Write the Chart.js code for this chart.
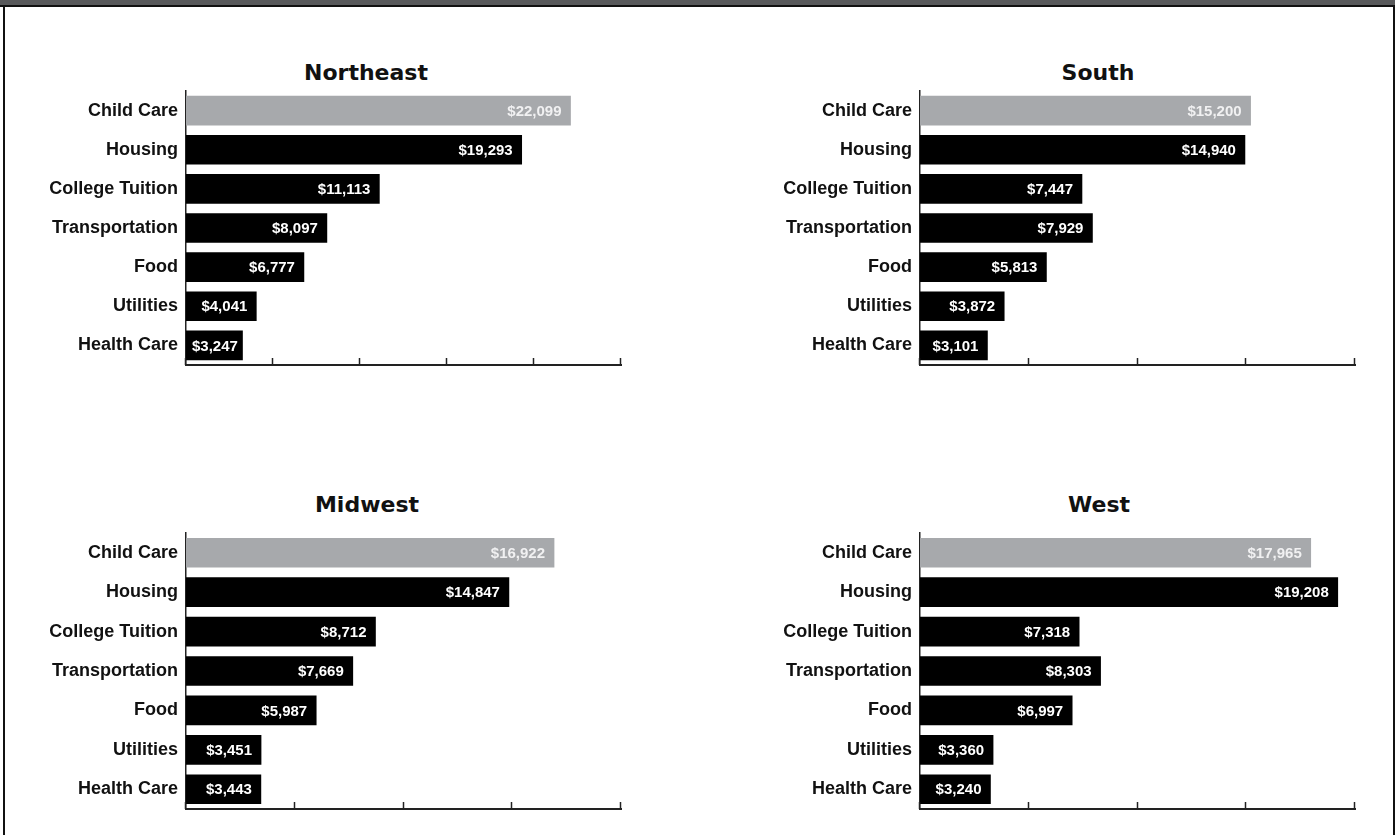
<!DOCTYPE html>
<html lang="en">
<head>
  <meta charset="UTF-8">
  <title>Annual Costs by Region</title>
  <script src="https://cdn.jsdelivr.net/npm/chart.js"></script>
  <style>
    body {
      margin: 0;
      width: 1397px;
      height: 835px;
      overflow: hidden;
      position: relative;
      background: #ffffff;
      font-family: 'Liberation Sans', Arial, sans-serif;
    }

    .band {
      position: absolute;
      left: 0;
      top: 0;
      width: 1395px;
      height: 5px;
      background: #58595b;
      border-bottom: 2px solid #111;
    }

    .frame {
      position: absolute;
      left: 3px;
      top: 5px;
      width: 1392px;
      height: 840px;
      box-sizing: border-box;
      border-left: 2px solid #111;
      border-right: 2px solid #111;
    }

    .panel {
      position: absolute;
    }

    h2 {
      position: absolute;
      margin: 0;
      width: 300px;
      text-align: center;
      font-family: 'DejaVu Sans', sans-serif;
      font-size: 22px;
      font-weight: bold;
      line-height: 26px;
      color: #111;
    }
  </style>
</head>
<body>

  <div class="band"></div>
  <div class="frame"></div>

  <h2 id="t-ne"></h2>
  <h2 id="t-south"></h2>
  <h2 id="t-mw"></h2>
  <h2 id="t-west"></h2>

  <div class="panel"><canvas id="ne"></canvas></div>
  <div class="panel"><canvas id="south"></canvas></div>
  <div class="panel"><canvas id="mw"></canvas></div>
  <div class="panel"><canvas id="west"></canvas></div>

  <script>
    const CATEGORIES = ['Child Care', 'Housing', 'College Tuition', 'Transportation', 'Food', 'Utilities', 'Health Care'];
    const REGION_NAMES = ['Northeast', 'South', 'Midwest', 'West'];

    const NORTHEAST_COSTS = [22099, 19293, 11113, 8097, 6777, 4041, 3247];
    const SOUTH_COSTS = [15200, 14940, 7447, 7929, 5813, 3872, 3101];
    const MIDWEST_COSTS = [16922, 14847, 8712, 7669, 5987, 3451, 3443];
    const WEST_COSTS = [17965, 19208, 7318, 8303, 6997, 3360, 3240];

    const AXIS_MAX = [25000, 20000, 20000, 20000];
    const AXIS_STEP = 5000;

    const HIGHLIGHT = '#a7a9ac';
    const BAR_COLOR = '#000000';

    // where each panel sits on the page (plot edges + title centre, page px)
    const PANELS = [
      { id: 'ne',    left: 0,   areaLeft: 186, areaRight: 621,  titleX: 366,  titleY: 73,  plotTop: 91,  plotBottom: 365 },
      { id: 'south', left: 700, areaLeft: 920, areaRight: 1355, titleX: 1098, titleY: 73,  plotTop: 91,  plotBottom: 365 },
      { id: 'mw',    left: 0,   areaLeft: 186, areaRight: 621,  titleX: 367,  titleY: 505, plotTop: 533, plotBottom: 809 },
      { id: 'west',  left: 700, areaLeft: 920, areaRight: 1355, titleX: 1099, titleY: 505, plotTop: 533, plotBottom: 809 }
    ];

    const PAD = { left: 10, right: 20, top: 30, bottom: 20 };
    const X_AXIS_H = 4;

    // short upward tick marks on the value axis
    const tickMarks = {
      id: 'tickMarks',
      afterDraw(chart) {
        const xs = chart.scales.x;
        const ctx = chart.ctx;
        const bottom = chart.chartArea.bottom;
        ctx.save();
        ctx.strokeStyle = '#222';
        ctx.lineWidth = 1.5;
        xs.ticks.forEach(t => {
          const px = Math.round(xs.getPixelForValue(t.value)) - 0.5;
          ctx.beginPath();
          ctx.moveTo(px, bottom);
          ctx.lineTo(px, bottom - 7);
          ctx.stroke();
        });
        ctx.restore();
      }
    };

    // "$22,099" labels at the inner end of each bar
    const valueLabels = {
      id: 'valueLabels',
      afterDatasetsDraw(chart) {
        const ctx = chart.ctx;
        const meta = chart.getDatasetMeta(0);
        const values = chart.data.datasets[0].data;
        ctx.save();
        ctx.font = 'bold 15px "Liberation Sans", Arial, sans-serif';
        ctx.textAlign = 'right';
        ctx.textBaseline = 'middle';
        meta.data.forEach((bar, i) => {
          const text = '$' + values[i].toLocaleString('en-US');
          const w = ctx.measureText(text).width;
          const x = Math.max(bar.x - 9, bar.base + w + 6);
          ctx.fillStyle = i === 0 ? '#f1f1f2' : '#ffffff';
          ctx.fillText(text, x, bar.y + 1);
        });
        ctx.restore();
      }
    };

    function drawPanel(p, name, values, max) {
      const title = document.getElementById('t-' + p.id);
      title.textContent = name;
      title.style.left = (p.titleX - 150) + 'px';
      title.style.top = (p.titleY - 13) + 'px';

      const canvas = document.getElementById(p.id);
      const wrap = canvas.parentNode;
      const top = p.plotTop - PAD.top;
      const width = p.areaRight + PAD.right - p.left;
      const height = p.plotBottom + PAD.bottom + X_AXIS_H - top;
      wrap.style.left = p.left + 'px';
      wrap.style.top = top + 'px';
      wrap.style.width = width + 'px';
      wrap.style.height = height + 'px';

      const yWidth = p.areaLeft - p.left - PAD.left;

      new Chart(canvas, {
        type: 'bar',
        data: {
          labels: CATEGORIES,
          datasets: [{
            data: values,
            backgroundColor: values.map((v, i) => i === 0 ? HIGHLIGHT : BAR_COLOR),
            barThickness: 29
          }]
        },
        options: {
          indexAxis: 'y',
          responsive: true,
          maintainAspectRatio: false,
          animation: false,
          layout: { padding: PAD },
          plugins: {
            legend: { display: false },
            tooltip: { enabled: false },
            title: { display: false }
          },
          scales: {
            x: {
              min: 0,
              max: max,
              ticks: { display: false, stepSize: AXIS_STEP },
              grid: { display: false, drawTicks: false },
              border: { color: '#222', width: 2 },
              afterFit: s => { s.height = X_AXIS_H; }
            },
            y: {
              ticks: {
                color: '#111',
                padding: 8,
                font: { family: 'Liberation Sans', size: 18, weight: 'bold' }
              },
              grid: { display: false, drawTicks: false },
              border: { color: '#222', width: 1.5 },
              afterFit: s => { s.width = yWidth; }
            }
          }
        },
        plugins: [tickMarks, valueLabels]
      });
    }

    const ALL_COSTS = [NORTHEAST_COSTS, SOUTH_COSTS, MIDWEST_COSTS, WEST_COSTS];
    PANELS.forEach((p, i) => drawPanel(p, REGION_NAMES[i], ALL_COSTS[i], AXIS_MAX[i]));
  </script>

</body>
</html>
